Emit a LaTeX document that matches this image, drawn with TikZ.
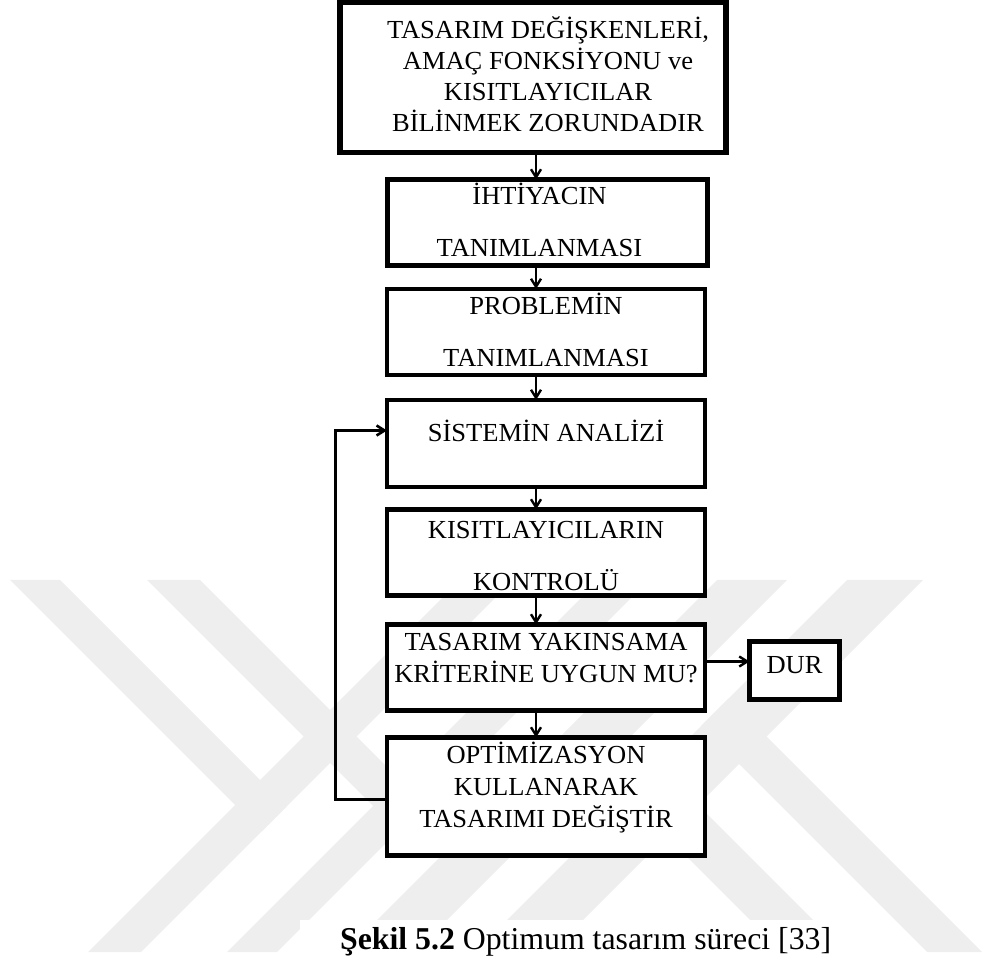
\documentclass[tikz,border=0pt]{standalone}
\usepackage{fontspec}
\setmainfont{Liberation Serif}
\newfontfamily\boxfont[FakeStretch=1.02]{Liberation Serif}
\usetikzlibrary{positioning,arrows.meta}

\definecolor{faint}{RGB}{238,238,238}

% invisible struts that deepen the last line / raise the first line of a box
\newcommand\padbelow[1]{\rule[-#1]{0pt}{#1}}
\newcommand\padabove[1]{\rule{0pt}{#1}}

\tikzset{
  stage/.style={draw, line width=2.2pt, fill=white, inner sep=0pt, outer sep=0pt,
    minimum width=159pt, minimum height=43pt, align=center,
    font=\boxfont\fontsize{13pt}{15.5pt}\selectfont},
  flow/.style={line width=1.2pt, -{Straight Barb[length=4pt,width=5pt]}},
  band/.style={fill=faint},
}

\begin{document}
\begin{tikzpicture}[x=0.5pt, y=-0.5pt]
\useasboundingbox (0,0) rectangle (984,961);

% faint chevron bands in the background
\begin{scope}
  \clip (0,580) rectangle (984,952);
  \path[band] (10,580) -- (60,580) -- (286.5,806.5) -- (261.5,831.5) -- cycle;
  \path[band] (147,580) -- (200,580) -- (424.5,804.5) -- (398,831) -- cycle;
  \path[band] (460,580) -- (513,580) -- (141,952) -- (88,952) -- cycle;
  \path[band] (599,580) -- (649,580) -- (277,952) -- (227,952) -- cycle;
  \path[band] (717,580) -- (787,580) -- (415,952) -- (345,952) -- cycle;
  \path[band] (847,580) -- (923,580) -- (551,952) -- (475,952) -- cycle;
  \path[band] (728.5,698.5) -- (982,952) -- (927,952) -- (701,726) -- cycle;
  \path[band] (595,702) -- (845,952) -- (782,952) -- (563.5,733.5) -- cycle;
\end{scope}
\fill[white] (300,920) rectangle (850,961);

% the steps
\node [stage, line width=2.7pt, minimum width=193pt, minimum height=75pt] (goal) at (533,77.5)
  {\hspace*{15pt}TASARIM DEĞİŞKENLERİ,\\ \hspace*{15pt}AMAÇ FONKSİYONU ve\\
   \hspace*{15pt}KISITLAYICILAR\\ \hspace*{15pt}BİLİNMEK ZORUNDADIR\padbelow{3pt}};
\node [stage, below=13.5pt of goal, xshift=7.25pt, minimum width=160pt] (need)
  {İHTİYACIN\hspace*{8pt}\\[10.5pt]TANIMLANMASI\hspace*{8pt}\padbelow{3pt}};
\node [stage, below=11.75pt of need, xshift=-0.75pt] (problem)
  {PROBLEMİN\\[10.5pt]TANIMLANMASI\padbelow{2pt}};
\node [stage, below=12.5pt of problem, minimum height=43.5pt,
       text height=8pt, text depth=9.5pt] (analysis) {SİSTEMİN ANALİZİ};
\node [stage, below=11.25pt of analysis] (check)
  {\padabove{12.6pt}KISITLAYICILARIN\\[10.5pt]KONTROLÜ};
\node [stage, below=14.5pt of check] (converge)
  {TASARIM YAKINSAMA\\[0.5pt]KRİTERİNE UYGUN MU?\padbelow{10pt}};
\node [stage, right=22.25pt of converge, yshift=-1.5pt, minimum width=45pt,
       minimum height=29pt, text height=10pt, text depth=7.5pt] (stop) {DUR};
\node [stage, below=13.5pt of converge, minimum height=59pt] (modify)
  {OPTİMİZASYON\\[0.5pt]KULLANARAK\\[0.5pt]TASARIMI DEĞİŞTİR\padbelow{11.8pt}};

\node [anchor=base west, font=\fontsize{15.9pt}{19pt}\selectfont] (caption) at (333,949)
  {\textbf{Şekil 5.2} Optimum tasarım süreci [33]};

% arrows
\coordinate (spine) at (536,0);
\coordinate (rail) at (335.5,0);
\coordinate (entry) at ([yshift=6.5pt]analysis.west);
\foreach \a/\b in {goal/need, need/problem, problem/analysis, analysis/check,
                   check/converge, converge/modify}
  \draw [flow] (\a.south -| spine) -- (\b.north -| spine);
\draw [flow] ([yshift=3pt]converge.east) -- ([yshift=3pt]converge.east -| stop.west);
\draw [flow, line width=1.3pt] ([yshift=-1.5pt]modify.west) -| (rail |- entry) -- (entry);

\end{tikzpicture}
\end{document}
